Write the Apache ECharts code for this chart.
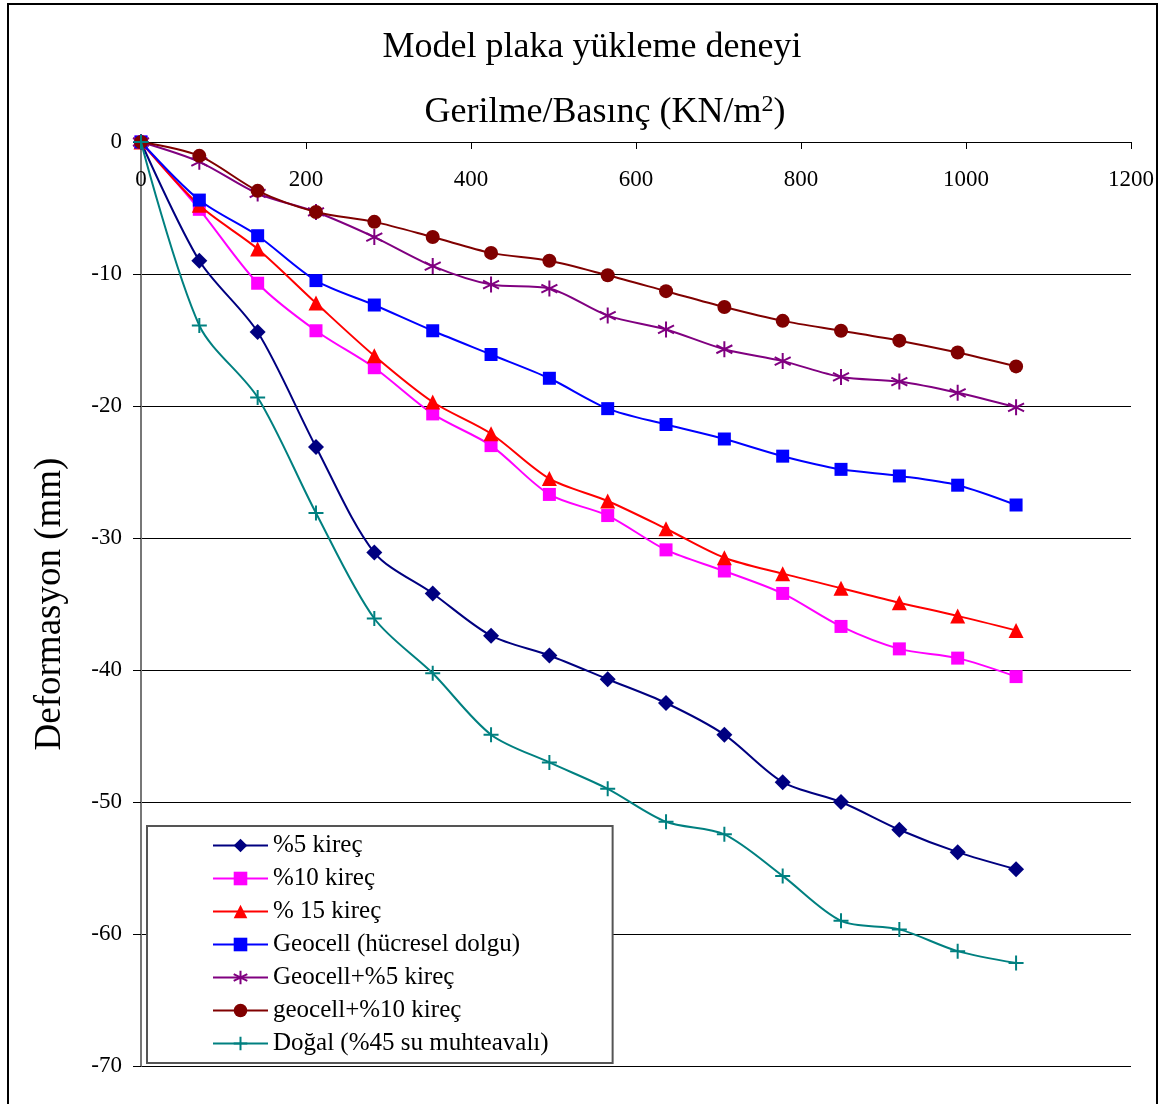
<!DOCTYPE html>
<html>
<head>
<meta charset="utf-8">
<script src="https://cdn.jsdelivr.net/npm/echarts@6/dist/echarts.min.js"></script>
<style>html,body{margin:0;padding:0;background:#fff;}#c{width:1163px;height:1104px;}</style>
</head>
<body>
<div id="c"></div>
<script>
const loads = [0, 70.7, 141.4, 212.1, 282.8, 353.6, 424.3, 495.0, 565.7, 636.4, 707.1, 777.8, 848.5, 919.2, 989.9, 1060.7];
const kirec5 = [0, -9.0, -14.4, -23.1, -31.1, -34.2, -37.4, -38.9, -40.7, -42.5, -44.9, -48.5, -50.0, -52.1, -53.8, -55.1];
const kirec10 = [0, -5.1, -10.7, -14.3, -17.1, -20.6, -23.0, -26.7, -28.3, -30.9, -32.5, -34.2, -36.7, -38.4, -39.1, -40.5];
const kirec15 = [0, -4.8, -8.1, -12.2, -16.2, -19.7, -22.1, -25.5, -27.2, -29.3, -31.5, -32.7, -33.8, -34.9, -35.9, -37.0];
const geocell = [0, -4.4, -7.1, -10.5, -12.35, -14.3, -16.1, -17.9, -20.2, -21.4, -22.5, -23.8, -24.8, -25.3, -26.0, -27.5];
const geocell5 = [0, -1.5, -3.9, -5.3, -7.2, -9.4, -10.8, -11.1, -13.15, -14.2, -15.7, -16.6, -17.8, -18.15, -19.0, -20.1];
const geocell10 = [0, -1.05, -3.7, -5.3, -6.05, -7.2, -8.4, -9.0, -10.1, -11.3, -12.5, -13.55, -14.3, -15.05, -15.95, -17.0];
const dogal = [0, -13.9, -19.35, -28.1, -36.1, -40.25, -44.9, -47.0, -49.0, -51.5, -52.45, -55.6, -59.0, -59.65, -61.3, -62.2];

const seriesNames = ['%5 kireç', '%10 kireç', '% 15 kireç', 'Geocell (hücresel dolgu)', 'Geocell+%5 kireç', 'geocell+%10 kireç', 'Doğal (%45 su muhteavalı)'];
const xTicks = { min: 0, max: 1200, interval: 200 };
const yTicks = { min: -70, max: 0, interval: 10 };

const FONT = "'Liberation Serif', 'Times New Roman', serif";
const STAR = 'path://M0,-1L0,1M-0.866,-0.5L0.866,0.5M-0.866,0.5L0.866,-0.5';
const PLUS = 'path://M0,-1L0,1M-1,0L1,0';

function pairs(ys) { return loads.map((x, i) => [x, ys[i]]); }

const styles = [
  { data: kirec5, color: '#000080', symbol: 'diamond', size: 16 },
  { data: kirec10, color: '#FF00FF', symbol: 'rect', size: 13 },
  { data: kirec15, color: '#FF0000', symbol: 'triangle', size: 15 },
  { data: geocell, color: '#0000FF', symbol: 'rect', size: 13 },
  { data: geocell5, color: '#800080', symbol: STAR, size: 16, stroke: true },
  { data: geocell10, color: '#800000', symbol: 'circle', size: 14 },
  { data: dogal, color: '#008080', symbol: PLUS, size: 15, stroke: true }
];

const series = styles.map((s, i) => ({
  name: seriesNames[i],
  type: 'line',
  smooth: 0.3,
  data: pairs(s.data),
  symbol: s.symbol,
  symbolSize: s.size,
  showAllSymbol: true,
  lineStyle: { color: s.color, width: 2 },
  itemStyle: s.stroke
    ? { color: s.color, borderColor: s.color, borderWidth: 2 }
    : { color: s.color, borderWidth: 0 },
  emphasis: { disabled: true },
  z: 3 + i
}));

const chart = echarts.init(document.getElementById('c'), null, { renderer: 'canvas' });
chart.setOption({
  animation: false,
  backgroundColor: '#fff',
  textStyle: { fontFamily: FONT },
  title: {
    text: 'Model plaka yükleme deneyi',
    left: 592, top: 30, padding: 0,
    textAlign: 'center',
    textStyle: { fontFamily: FONT, fontSize: 36, fontWeight: 'normal', color: '#000' }
  },
  graphic: [{
    type: 'rect', z: -1,
    shape: { x: 8, y: 4, width: 1149, height: 1112 },
    style: { fill: 'none', stroke: '#000', lineWidth: 2 }
  }],
  grid: { left: 141, top: 142, right: 32, bottom: 38, containLabel: false },
  xAxis: {
    type: 'value',
    position: 'top',
    min: xTicks.min, max: xTicks.max, interval: xTicks.interval,
    name: 'Gerilme/Basınç (KN/m{sup|2})',
    nameLocation: 'middle',
    nameGap: 9,
    nameTextStyle: {
      fontFamily: FONT, fontSize: 36, color: '#000',
      padding: [0, 62, 0, 0],
      rich: { sup: { fontFamily: FONT, fontSize: 24, color: '#000', verticalAlign: 'top', padding: [0, 0, 16, 0] } }
    },
    axisLine: { onZero: false, lineStyle: { color: '#000', width: 1 } },
    axisTick: { inside: true, length: 7, lineStyle: { color: '#000' } },
    axisLabel: { inside: true, margin: 26, fontFamily: FONT, fontSize: 23, color: '#000',
      formatter: v => String(v) },
    splitLine: { show: false }
  },
  yAxis: {
    type: 'value',
    min: yTicks.min, max: yTicks.max, interval: yTicks.interval,
    name: 'Deformasyon (mm)',
    nameLocation: 'middle',
    nameGap: 72,
    nameTextStyle: { fontFamily: FONT, fontSize: 37, color: '#000' },
    axisLine: { show: true, onZero: false, lineStyle: { color: '#777', width: 2 } },
    axisTick: { show: true, length: 8, lineStyle: { color: '#000' } },
    axisLabel: { margin: 19, fontFamily: FONT, fontSize: 23, color: '#000',
      formatter: v => String(v) },
    splitLine: { show: true, lineStyle: { color: '#000', width: 1 } }
  },
  legend: {
    orient: 'vertical',
    left: 147, top: 826,
    padding: [7, 64, 7, 65],
    itemWidth: 55, itemHeight: 17, itemGap: 8,
    backgroundColor: '#fff',
    borderColor: '#555', borderWidth: 2,
    textStyle: { fontFamily: FONT, fontSize: 25, color: '#000', lineHeight: 25 },
    data: seriesNames,
    z: 20
  },
  series: series
});
</script>
</body>
</html>
